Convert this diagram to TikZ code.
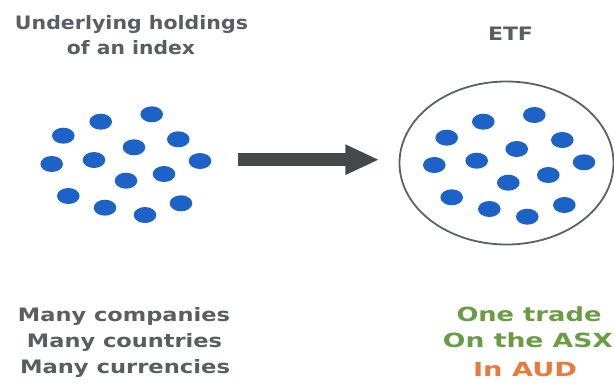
\documentclass[tikz,border=0pt]{standalone}
\usepackage{fontspec}
\setmainfont{DejaVu Sans}
\usetikzlibrary{arrows.meta,shapes.geometric}
\definecolor{dotblue}{HTML}{1D62C6}
\definecolor{labelgray}{HTML}{585E63}
\definecolor{ringgray}{HTML}{5E6163}
\definecolor{arrowgray}{HTML}{43484B}
\definecolor{tradegreen}{HTML}{6A9C45}
\definecolor{audorange}{HTML}{E97A3E}
% stretch a text to a given width, keeping its natural height
\newcommand\widetext[2]{\resizebox{#1}{\height}{#2}}
\tikzset{
  holding/.style={fill=dotblue, draw=none},
  caption/.style={anchor=base, inner sep=0pt, font=\bfseries\fontsize{18.5}{20}\selectfont, text=labelgray},
  result/.style={anchor=base, inner sep=0pt, font=\bfseries\fontsize{19.5}{21}\selectfont},
  ring/.style={ellipse, draw=ringgray, line width=1.8pt, inner sep=0pt},
  bigarrow/.style={draw=arrowgray, line width=12.7pt, -{Triangle[length=34pt, width=28pt]}, fill=arrowgray}
}
\begin{document}
\begin{tikzpicture}[x=1pt, y=-1pt]
  \useasboundingbox (0,0) rectangle (614,384);

  % titles
  \node[caption] (t1) at (131.5,29.3) {\widetext{233pt}{Underlying holdings}};
  \node[caption] (t2) at (131,54.3) {\widetext{128pt}{of an index}};
  \node[caption] (etf) at (510.5,40) {\widetext{45pt}{ETF}};

  % loose holdings of the index
  \foreach \x/\y in {100.7/121.7, 151.7/114.3, 63.3/135.7, 178.3/139.3,
                     134/147.3, 51.7/164, 94/160, 200/161, 164/174,
                     126/180.7, 68.3/196, 105/207.7, 145/215, 181/203.3}
    \fill[holding] (\x,\y) ellipse [x radius=11.3, y radius=8];

  % the same holdings wrapped in one fund
  \node[ring, minimum width=214pt, minimum height=163pt] (fund) at (506.5,163) {};
  \foreach \x/\y in {483.3/121.7, 534.3/115, 446.7/137.7, 562.3/140,
                     516.7/149, 434.3/165, 476.7/160.7, 584/162.3, 548.3/175,
                     508.3/182.7, 451.7/197.3, 489.3/209, 527.3/216.7, 564.3/205}
    \fill[holding] (\x,\y) ellipse [x radius=11.3, y radius=8];

  % arrow from the index to the fund
  \coordinate (from) at (238.3,159.7);
  \coordinate (to) at (379.3,159.7);
  \draw[bigarrow] (from) -- (to);

  % captions underneath
  \node[caption] (c1) at (124,321.5) {\widetext{212pt}{Many companies}};
  \node[caption] (c2) at (124.5,347.5) {\widetext{195pt}{Many countries}};
  \node[caption] (c3) at (125,373.5) {\widetext{210pt}{Many currencies}};

  \node[result, text=tradegreen] (r1) at (529,321.5) {\widetext{145pt}{One trade}};
  \node[result, text=tradegreen] (r2) at (528,347.5) {\widetext{170pt}{On the ASX}};
  \node[result, text=audorange] (r3) at (525,376) {\widetext{104pt}{In AUD}};
\end{tikzpicture}
\end{document}
